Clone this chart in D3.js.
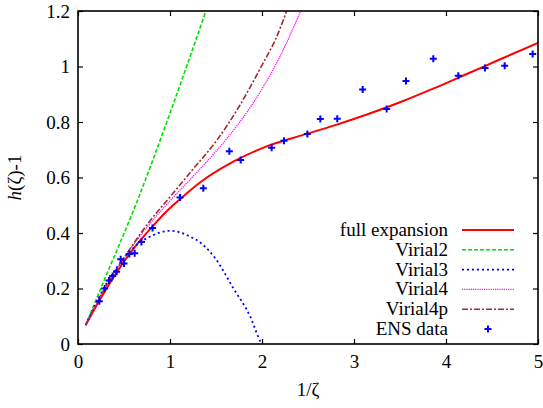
<!DOCTYPE html>
<html>
<head>
<meta charset="utf-8">
<script src="https://cdn.jsdelivr.net/npm/d3@7"></script>
<style>
  body { margin: 0; background: #fff; }
  text { font-family: "Liberation Serif", "Times New Roman", Times, "DejaVu Serif", serif; }
</style>
</head>
<body>
<div id="viz"></div>
<script>
const width = 543;
const height = 408;
const margin = {top: 11, right: 5, bottom: 64, left: 78};

// values (x = 1/zeta, y = h(zeta)-1)
const xTicks = [0, 1, 2, 3, 4, 5];
const yTicks = [0, 0.2, 0.4, 0.6, 0.8, 1, 1.2];

const fullX = [0.083, 0.2, 0.4, 0.6, 0.8, 0.95, 1.109, 1.33, 1.688, 2.05, 2.41, 2.78, 3.14, 3.5, 3.86, 4.22, 4.59, 5.0];
const fullY = [0.068, 0.138, 0.248, 0.342, 0.42, 0.474, 0.522, 0.583, 0.657, 0.712, 0.75, 0.787, 0.827, 0.871, 0.92, 0.972, 1.026, 1.085];

const virial2X = [0.083, 0.3, 0.561, 0.648, 1.0, 1.39];
const virial2Y = [0.068, 0.242, 0.447, 0.519, 0.832, 1.2];

const virial3X = [0.083, 0.2, 0.35, 0.5, 0.65, 0.8, 1.0, 1.2, 1.35, 1.5, 1.69, 1.87, 1.98, 1.995];
const virial3Y = [0.068, 0.15, 0.24, 0.31, 0.36, 0.39, 0.408, 0.39, 0.36, 0.305, 0.2, 0.1, 0.01, 0];

const virial4X = [0.083, 0.3, 0.5, 0.75, 1.0, 1.25, 1.5, 1.75, 2.0, 2.2, 2.42];
const virial4Y = [0.068, 0.203, 0.31, 0.421, 0.516, 0.604, 0.694, 0.796, 0.919, 1.039, 1.2];

const virial4pX = [0.083, 0.3, 0.5, 0.75, 1.0, 1.25, 1.5, 1.75, 2.0, 2.15, 2.268];
const virial4pY = [0.068, 0.205, 0.31, 0.43, 0.53, 0.63, 0.73, 0.855, 1.005, 1.1, 1.2];

const ensX = [0.232, 0.29, 0.337, 0.377, 0.42, 0.464, 0.5, 0.558, 0.616, 0.69, 0.81, 1.109, 1.362, 1.645, 1.768, 2.105, 2.239, 2.493, 2.634, 2.818, 3.094, 3.355, 3.565, 3.862, 4.134, 4.424, 4.638, 4.942];
const ensY = [0.154, 0.2, 0.229, 0.245, 0.26, 0.305, 0.29, 0.324, 0.327, 0.368, 0.418, 0.528, 0.561, 0.695, 0.663, 0.707, 0.732, 0.757, 0.811, 0.812, 0.917, 0.847, 0.948, 1.028, 0.967, 0.995, 1.003, 1.045];

const seriesNames = ['full expansion', 'Virial2', 'Virial3', 'Virial4', 'Virial4p'];
const seriesX = [fullX, virial2X, virial3X, virial4X, virial4pX];
const seriesY = [fullY, virial2Y, virial3Y, virial4Y, virial4pY];
const colors = ['#ff0000', '#00e000', '#0000ff', '#ff00ff', '#a52a2a'];
const dashes = [null, '4,2', '2,3', '1.2,1', '6,2,2,2'];
const widths = [2, 1.6, 1.8, 1.3, 1.6];

const svg = d3.select('#viz')
  .append('svg')
    .attr('width', width)
    .attr('height', height);

const xScale = d3.scaleLinear()
  .domain([0, 5])
  .range([margin.left, width - margin.right]);

const yScale = d3.scaleLinear()
  .domain([0, 1.2])
  .range([height - margin.bottom, margin.top]);

svg.append('clipPath')
    .attr('id', 'clip')
  .append('rect')
    .attr('x', margin.left)
    .attr('y', margin.top)
    .attr('width', xScale(5) - xScale(0))
    .attr('height', yScale(0) - yScale(1.2));

// ticks on all four sides, pointing inward
const tickLen = 5;
svg.append('g')
    .attr('transform', `translate(0, ${yScale(0)})`)
    .call(d3.axisBottom(xScale).tickValues(xTicks).tickSize(-tickLen).tickPadding(11).tickFormat(d3.format('d')))
    .call(g => g.select('.domain').remove());
svg.append('g')
    .attr('transform', `translate(0, ${yScale(1.2)})`)
    .call(d3.axisTop(xScale).tickValues(xTicks).tickSize(-tickLen).tickFormat(''))
    .call(g => g.select('.domain').remove());
svg.append('g')
    .attr('transform', `translate(${xScale(0)}, 0)`)
    .call(d3.axisLeft(yScale).tickValues(yTicks).tickSize(-tickLen).tickPadding(8).tickFormat(d => d3.format('~g')(d)))
    .call(g => g.select('.domain').remove());
svg.append('g')
    .attr('transform', `translate(${xScale(5)}, 0)`)
    .call(d3.axisRight(yScale).tickValues(yTicks).tickSize(-tickLen).tickFormat(''))
    .call(g => g.select('.domain').remove());

svg.selectAll('.tick line').attr('stroke', '#000').attr('stroke-width', 1.2);
svg.selectAll('.tick text')
    .attr('fill', '#000')
    .style('font-size', '19px');

// curves
const line = d3.line()
  .x(d => xScale(d[0]))
  .y(d => yScale(d[1]))
  .curve(d3.curveMonotoneX);

const curves = svg.append('g').attr('clip-path', 'url(#clip)');
seriesX.forEach((xs, i) => {
  curves.append('path')
    .attr('d', line(xs.map((x, j) => [x, seriesY[i][j]])))
    .attr('fill', 'none')
    .attr('stroke', colors[i])
    .attr('stroke-width', widths[i])
    .attr('stroke-dasharray', dashes[i]);
});

// ENS data as "+" markers
const plus = (g, x, y) => {
  g.append('path')
    .attr('d', `M${x - 3.5},${y}H${x + 3.5}M${x},${y - 3.5}V${y + 3.5}`)
    .attr('stroke', '#0000ff')
    .attr('stroke-width', 2);
};
const marks = svg.append('g');
ensX.forEach((x, i) => plus(marks, xScale(x), yScale(ensY[i])));

// frame
svg.append('rect')
    .attr('x', margin.left)
    .attr('y', margin.top)
    .attr('width', xScale(5) - xScale(0))
    .attr('height', yScale(0) - yScale(1.2))
    .attr('fill', 'none')
    .attr('stroke', '#000')
    .attr('stroke-width', 1.6);

// legend
const legend = svg.append('g');
const legendNames = seriesNames.concat(['ENS data']);
legendNames.forEach((name, i) => {
  const y = 230 + i * 19.8;
  legend.append('text')
      .attr('x', 448)
      .attr('y', y + 6)
      .attr('text-anchor', 'end')
      .style('font-size', '19px')
      .text(name);
  if (i < seriesNames.length) {
    legend.append('line')
        .attr('x1', 462).attr('x2', 514)
        .attr('y1', y).attr('y2', y)
        .attr('stroke', colors[i])
        .attr('stroke-width', widths[i])
        .attr('stroke-dasharray', dashes[i]);
  } else {
    plus(legend, 488, y);
  }
});

// axis labels
svg.append('text')
    .attr('x', (xScale(0) + xScale(5)) / 2)
    .attr('y', 396)
    .attr('text-anchor', 'middle')
    .style('font-size', '19px')
    .text('1/ζ');

svg.append('text')
    .attr('transform', `translate(21, ${(yScale(0) + yScale(1.2)) / 2}) rotate(-90)`)
    .attr('text-anchor', 'middle')
    .style('font-size', '19px')
    .html('<tspan font-style="italic">h</tspan>(ζ)-1');
</script>
</body>
</html>
